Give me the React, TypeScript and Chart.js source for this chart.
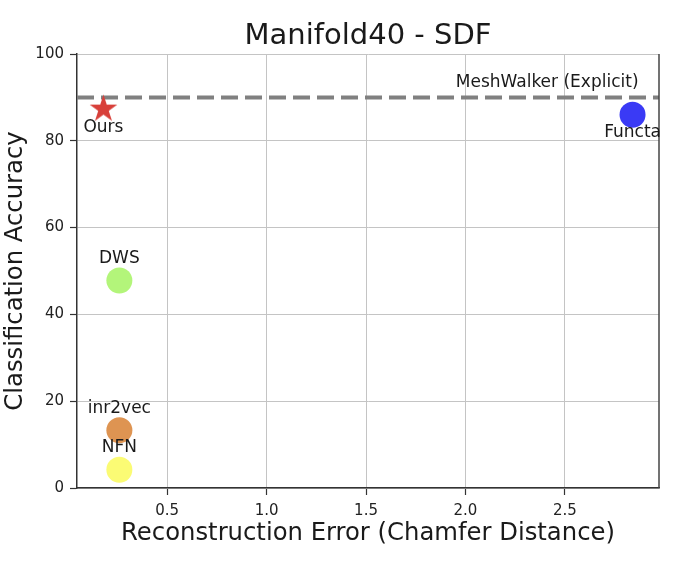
import React, { useEffect, useRef } from "react";
import { Chart, registerables } from "chart.js";

Chart.register(...registerables);

const methods = ["Ours", "Functa", "DWS", "inr2vec", "NFN"];
const recError = [0.18, 2.84, 0.26, 0.26, 0.26];
const accuracy = [87.3, 86.0, 47.8, 13.3, 4.2];
const pointColors = ["#d8403a", "#3a3af5", "#b3f57a", "#de9452", "#fbfb74"];
const labelBelow = [true, true, false, false, false];
const meshWalkerAcc = 90;
const meshWalkerLabel = "MeshWalker (Explicit)";
const meshWalkerLabelX = 2.87;
const xTicks = [0.5, 1.0, 1.5, 2.0, 2.5];
const xRange = [0.047, 2.973];
const yRange = [0, 100];
const title = "Manifold40 - SDF";
const xTitle = "Reconstruction Error (Chamfer Distance)";
const yTitle = "Classification Accuracy";

const FONT = "'DejaVu Sans', sans-serif";

function makeStar(r: number, color: string): HTMLCanvasElement {
  const size = Math.ceil(r * 2 + 4);
  const c = document.createElement("canvas");
  c.width = size;
  c.height = size;
  const g = c.getContext("2d")!;
  const cx = size / 2;
  const cy = size / 2;
  const inner = r * 0.382;
  g.beginPath();
  for (let i = 0; i < 10; i++) {
    const rad = i % 2 === 0 ? r : inner;
    const a = -Math.PI / 2 + (i * Math.PI) / 5;
    const px = cx + rad * Math.cos(a);
    const py = cy + rad * Math.sin(a);
    if (i === 0) g.moveTo(px, py);
    else g.lineTo(px, py);
  }
  g.closePath();
  g.fillStyle = color;
  g.fill();
  return c;
}

const textPlugin = {
  id: "textPlugin",
  afterDraw(chart: any) {
    const ctx = chart.ctx as CanvasRenderingContext2D;
    const area = chart.chartArea;
    const xs = chart.scales.x;
    const ys = chart.scales.y;
    ctx.save();
    // right spine
    ctx.strokeStyle = "#444";
    ctx.lineWidth = 1.5;
    ctx.beginPath();
    ctx.moveTo(area.right, area.top);
    ctx.lineTo(area.right, area.bottom);
    ctx.stroke();

    ctx.fillStyle = "#1a1a1a";
    ctx.textAlign = "center";
    ctx.textBaseline = "middle";
    ctx.font = `29px ${FONT}`;
    ctx.fillText(title, (area.left + area.right) / 2, 36);

    ctx.font = `24.3px ${FONT}`;
    ctx.fillText(xTitle, (area.left + area.right) / 2, 534);
    ctx.save();
    ctx.translate(16, (area.top + area.bottom) / 2);
    ctx.rotate(-Math.PI / 2);
    ctx.fillText(yTitle, 0, 0);
    ctx.restore();

    // point labels
    ctx.font = `17px ${FONT}`;
    methods.forEach((m, i) => {
      const px = xs.getPixelForValue(recError[i]);
      const py = ys.getPixelForValue(accuracy[i]);
      const dy = labelBelow[i] ? 18 : -22;
      ctx.fillText(m, px, py + dy);
    });

    // meshwalker label
    ctx.textAlign = "right";
    ctx.fillText(meshWalkerLabel, xs.getPixelForValue(meshWalkerLabelX), ys.getPixelForValue(meshWalkerAcc) - 15);
    ctx.restore();
  },
};

export default function App() {
  const ref = useRef<HTMLCanvasElement>(null);
  useEffect(() => {
    const canvas = ref.current!;
    const star = makeStar(14.5, pointColors[0]);
    const circleIdx = [1, 2, 3, 4];
    const chart = new Chart(canvas, {
      type: "scatter",
      data: {
        datasets: [
          {
            type: "line",
            data: [
              { x: xRange[0], y: meshWalkerAcc },
              { x: xRange[1], y: meshWalkerAcc },
            ],
            borderColor: "#808080",
            borderWidth: 4,
            borderDash: [17, 7],
            pointRadius: 0,
            fill: false,
            order: 3,
          } as any,
          {
            data: circleIdx.map((i) => ({ x: recError[i], y: accuracy[i] })),
            backgroundColor: circleIdx.map((i) => pointColors[i]),
            borderWidth: 0,
            pointRadius: 13,
            order: 2,
          },
          {
            data: [{ x: recError[0], y: accuracy[0] }],
            pointStyle: star as any,
            backgroundColor: pointColors[0],
            order: 1,
          },
        ],
      },
      options: {
        responsive: false,
        animation: false,
        layout: { padding: { left: 0, right: 21, top: 54, bottom: 0 } },
        plugins: {
          legend: { display: false },
          tooltip: { enabled: false },
          title: { display: false },
        },
        scales: {
          x: {
            type: "linear",
            min: xRange[0],
            max: xRange[1],
            afterBuildTicks: (s: any) => {
              s.ticks = xTicks.map((v) => ({ value: v }));
            },
            afterFit: (s: any) => {
              s.height = 75;
            },
            ticks: {
              autoSkip: false,
              maxRotation: 0,
              padding: 7,
              color: "#222",
              font: { family: FONT, size: 15 },
              callback: (v: any) => Number(v).toFixed(1),
            },
            grid: {
              color: "#c4c4c4",
              lineWidth: 1,
              tickLength: 7,
              tickColor: "#333",
              tickWidth: 1.2,
            },
            border: { color: "#333", width: 1.5 },
          },
          y: {
            type: "linear",
            min: yRange[0],
            max: yRange[1],
            afterFit: (s: any) => {
              s.width = 77;
            },
            ticks: {
              stepSize: 20,
              padding: 6,
              color: "#222",
              font: { family: FONT, size: 15 },
            },
            grid: {
              color: "#c4c4c4",
              lineWidth: 1,
              tickLength: 7,
              tickColor: "#333",
              tickWidth: 1.2,
            },
            border: { color: "#333", width: 1.5 },
          },
        },
      },
      plugins: [textPlugin],
    } as any);
    return () => chart.destroy();
  }, []);
  return (
    <div style={{ position: "fixed", left: 0, top: 0, width: 680, height: 563, background: "#fff" }}>
      <canvas ref={ref} width={680} height={563} style={{ display: "block" }} />
    </div>
  );
}
